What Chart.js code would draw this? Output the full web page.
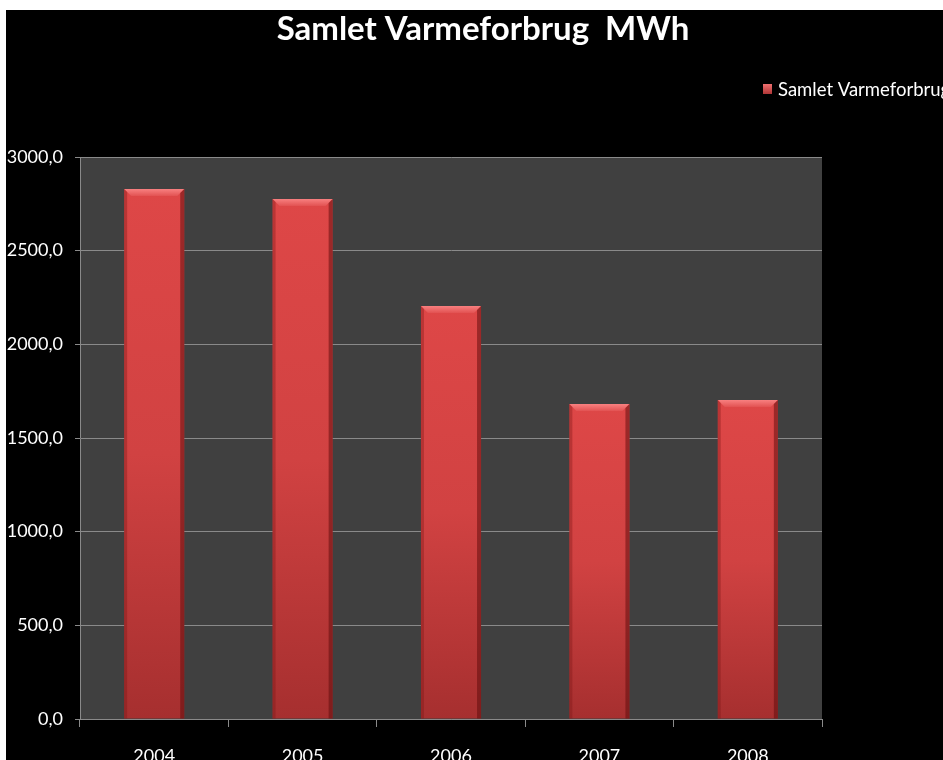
<!DOCTYPE html>
<html>
<head>
<meta charset="utf-8">
<script src="https://cdn.jsdelivr.net/npm/chart.js@4"></script>
<style>
  html, body { margin: 0; padding: 0; background: #ffffff; }
  #wrap { position: absolute; left: 6px; top: 10px; width: 937px; height: 750px; background: #000; }
</style>
</head>
<body>
<div id="wrap"><canvas id="chart" width="937" height="750"></canvas></div>
<script>
const years = ["2004", "2005", "2006", "2007", "2008"];
const heatUse = [2829, 2776, 2205, 1681, 1703];
const chartTitle = "Samlet Varmeforbrug  MWh";
const seriesName = "Samlet Varmeforbrug";
const yTicks = [0, 500, 1000, 1500, 2000, 2500, 3000];

const FONT = "Lato, 'Open Sans', sans-serif";

// per-bar vertical gradient, bright top -> darker bottom
function barFill(ctx) {
    const chart = ctx.chart;
    const y = chart.scales.y;
    if (!y || ctx.raw == null) return "#d44343";
    const top = y.getPixelForValue(ctx.raw);
    const bottom = y.getPixelForValue(0);
    if (!isFinite(top) || !isFinite(bottom) || top === bottom) return "#d44343";
    const g = chart.ctx.createLinearGradient(0, top, 0, bottom);
    g.addColorStop(0, "#de4747");
    g.addColorStop(0.5, "#d14242");
    g.addColorStop(1, "#a62f2f");
    return g;
}

const decor = {
    id: "decor",
    beforeDraw(chart) {
        const { ctx, chartArea: a } = chart;
        ctx.save();
        ctx.fillStyle = "#404040";
        ctx.fillRect(a.left, a.top, a.right - a.left, a.bottom - a.top);
        ctx.restore();
    },
    afterDatasetsDraw(chart) {
        const { ctx } = chart;
        const meta = chart.getDatasetMeta(0);
        ctx.save();
        meta.data.forEach(bar => {
            const l = bar.x - bar.width / 2, r = bar.x + bar.width / 2;
            const t = bar.y, b = bar.base, e = 7;
            // top bevel
            const tg = ctx.createLinearGradient(0, t, 0, t + e);
            tg.addColorStop(0, "#f88080");
            tg.addColorStop(1, "#e25252");
            ctx.fillStyle = tg;
            ctx.beginPath();
            ctx.moveTo(l, t); ctx.lineTo(r, t); ctx.lineTo(r - e, t + e); ctx.lineTo(l + e, t + e);
            ctx.closePath(); ctx.fill();
            // side edges
            ctx.fillStyle = "rgba(120,20,20,0.35)";
            ctx.beginPath();
            ctx.moveTo(l, t); ctx.lineTo(l + 3, t + 3); ctx.lineTo(l + 3, b); ctx.lineTo(l, b);
            ctx.closePath(); ctx.fill();
            ctx.fillStyle = "rgba(90,10,10,0.5)";
            ctx.beginPath();
            ctx.moveTo(r, t); ctx.lineTo(r - 4, t + 4); ctx.lineTo(r - 4, b); ctx.lineTo(r, b);
            ctx.closePath(); ctx.fill();
        });
        ctx.restore();
    },
    afterDraw(chart) {
        const { ctx } = chart;
        ctx.save();
        ctx.fillStyle = "#ffffff";
        ctx.textBaseline = "alphabetic";
        ctx.textAlign = "center";
        ctx.font = "bold 33px " + FONT;
        ctx.fillText(chartTitle, 477, 30);
        // legend
        const lg = ctx.createLinearGradient(0, 74, 0, 85);
        lg.addColorStop(0, "#f07070");
        lg.addColorStop(1, "#a83030");
        ctx.fillStyle = lg;
        ctx.fillRect(757, 74, 9, 10);
        ctx.fillStyle = "#ffffff";
        ctx.textAlign = "left";
        ctx.textBaseline = "middle";
        ctx.font = "18.5px " + FONT;
        ctx.fillText(seriesName, 772, 80);
        ctx.restore();
    }
};

new Chart(document.getElementById("chart"), {
    type: "bar",
    data: {
        labels: years,
        datasets: [{
            label: seriesName,
            data: heatUse,
            backgroundColor: barFill,
            borderWidth: 0,
            categoryPercentage: 1,
            barPercentage: 0.405
        }]
    },
    options: {
        responsive: false,
        animation: false,
        layout: { padding: { top: 147, right: 121, left: 0, bottom: 0 } },
        plugins: { legend: { display: false }, title: { display: false }, tooltip: { enabled: false } },
        scales: {
            x: {
                grid: { display: true, drawOnChartArea: false, offset: true, color: "#8a8a8a", tickLength: 8 },
                border: { display: true, color: "#8a8a8a" },
                ticks: { color: "#ffffff", font: { family: FONT, size: 18 }, padding: 18, maxRotation: 0 },
                afterFit(s) { s.height = 41; }
            },
            y: {
                min: 0,
                max: 3000,
                afterBuildTicks(s) { s.ticks = yTicks.map(v => ({ value: v })); },
                grid: { color: "#8a8a8a", tickLength: 5 },
                border: { display: true, color: "#8a8a8a" },
                ticks: {
                    color: "#ffffff",
                    font: { family: FONT, size: 18 },
                    padding: 12,
                    callback: v => v.toFixed(1).replace(".", ",")
                },
                afterFit(s) { s.width = 74; }
            }
        }
    },
    plugins: [decor]
});
</script>
</body>
</html>
